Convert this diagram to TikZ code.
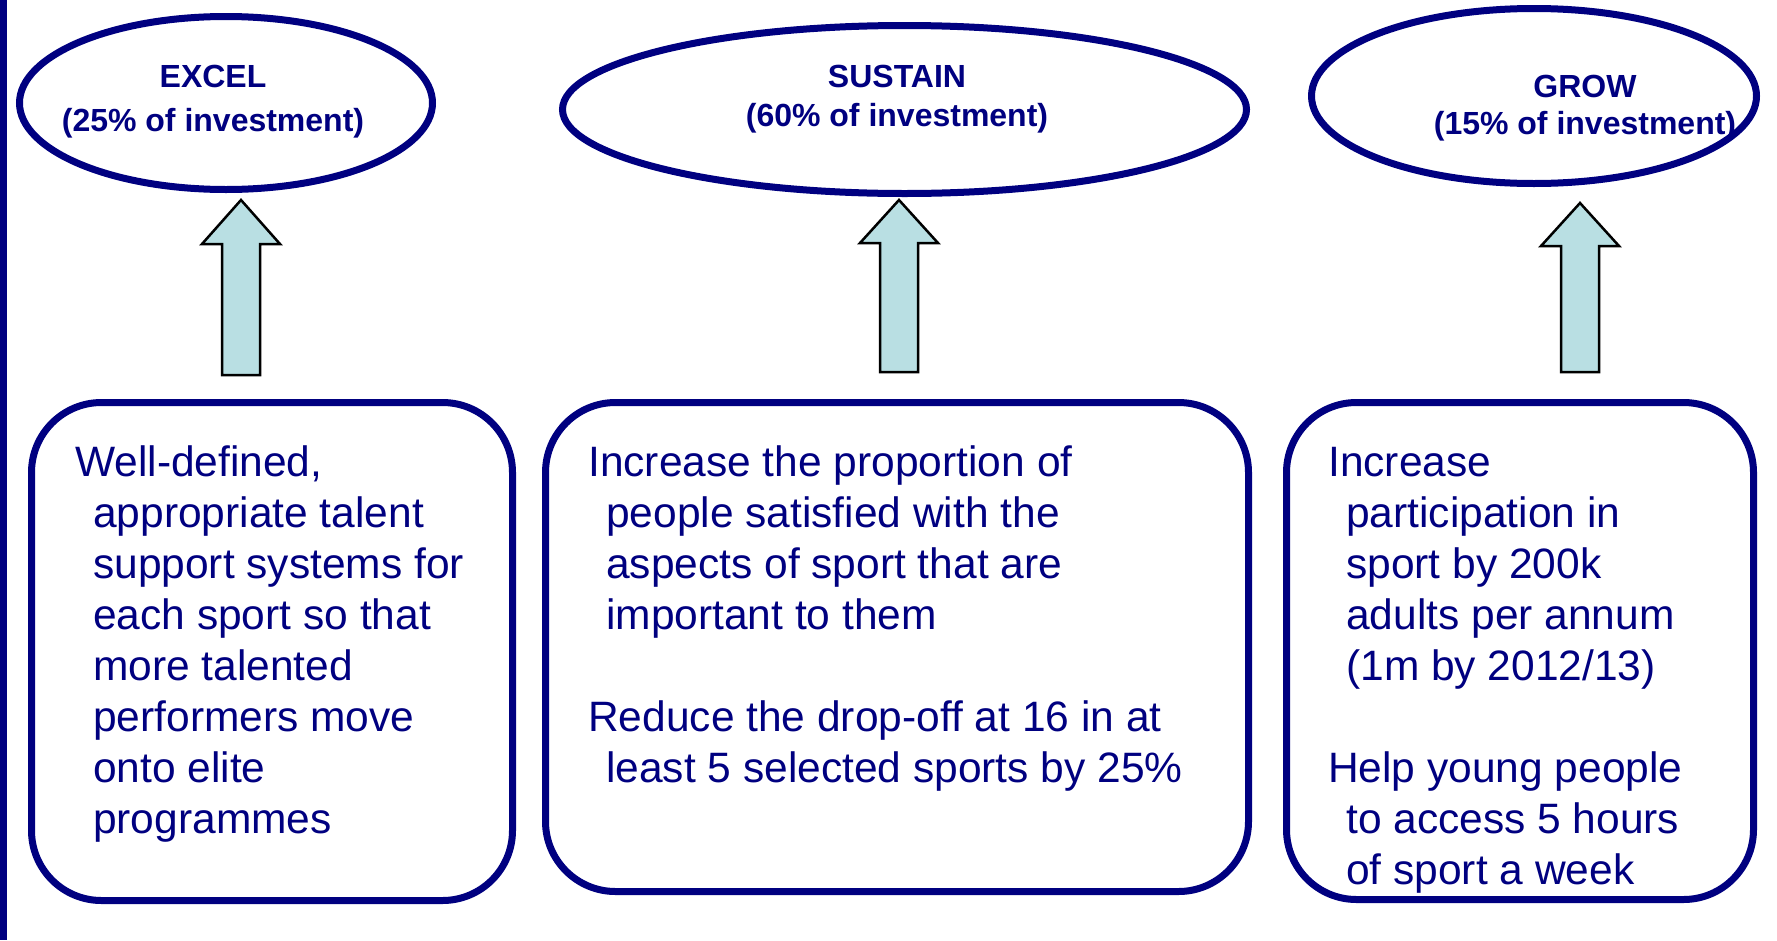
\documentclass[tikz,border=0pt]{standalone}
\usepackage{fontspec}
\setmainfont{Liberation Sans}
\usetikzlibrary{shapes.geometric,calc}
\definecolor{navyline}{RGB}{0,0,128}
\definecolor{arrowfill}{RGB}{185,223,227}

\begin{document}
\begin{tikzpicture}[x=1pt,y=-1pt,
  goal/.style={draw=navyline,line width=7pt,ellipse,inner sep=0pt},
  goaltext/.style={text=navyline,font=\bfseries\fontsize{32}{#1}\selectfont,align=center,anchor=north,inner sep=0pt},
  goaltext/.default=40,
  aimbox/.style={draw=navyline,line width=7pt,rectangle,rounded corners=70pt,inner sep=0pt},
  aimtext/.style={text=navyline,font=\fontsize{42.5}{51}\selectfont,align=left,anchor=north west,inner sep=0pt},
  upblock/.style={draw=black,line width=2.5pt,fill=arrowfill,line join=miter}]
%
\def\ind{\hspace*{18pt}};
\def\hw{39};
\def\sw{19};
%
\useasboundingbox (0,0) rectangle (1777,940);
\fill[navyline] (0,0) rectangle (7,940);
%
\coordinate (E1) at (226,103);
\coordinate (E2) at (904.5,109.5);
\coordinate (E3) at (1534,96);
%
\node[goal,minimum width=413pt,minimum height=173pt] (excel) at (E1) {};
\node[goal,minimum width=684pt,minimum height=168pt] (sustain) at (E2) {};
\node[goal,minimum width=445pt,minimum height=175pt] (grow) at (E3) {};
%
\node[goaltext=44] (excel-label) at (213,65) {EXCEL\\(25\% of investment)};
\node[goaltext=39] (sustain-label) at (897,65) {SUSTAIN\\(60\% of investment)};
\node[goaltext=37] (grow-label) at (1585,75) {GROW\\(15\% of investment)};
%
\coordinate (T1) at (241,200);
\coordinate (T2) at (899,200);
\coordinate (T3) at (1580,203);
%
\draw[upblock] (T1)--++(\hw,44)--++(-\hw+\sw,0)--++(0,131)--++(-2*\sw,0)--++(0,-131)--++(-\hw+\sw,0)--cycle;
\draw[upblock] (T2)--++(\hw,43)--++(-\hw+\sw,0)--++(0,129)--++(-2*\sw,0)--++(0,-129)--++(-\hw+\sw,0)--cycle;
\draw[upblock] (T3)--++(\hw,43)--++(-\hw+\sw,0)--++(0,126)--++(-2*\sw,0)--++(0,-126)--++(-\hw+\sw,0)--cycle;
%
\node[aimbox,minimum width=481pt,minimum height=498pt] (excel-box) at (272,651.5) {};
\node[aimbox,minimum width=703pt,minimum height=489pt] (sustain-box) at (897,647) {};
\node[aimbox,minimum width=467pt,minimum height=497pt] (grow-box) at (1520,651) {};
%
\node[aimtext] (excel-aims) at (75,445.5) {Well-defined,\\
  \ind appropriate talent\\
  \ind support systems for\\
  \ind each sport so that\\
  \ind more talented\\
  \ind performers move\\
  \ind onto elite\\
  \ind programmes};
\node[aimtext] (sustain-aims) at (588,445.5) {Increase the proportion of\\
  \ind people satisfied with the\\
  \ind aspects of sport that are\\
  \ind important to them\\[51pt]
  Reduce the drop-off at 16 in at\\
  \ind least 5 selected sports by 25\%};
\node[aimtext] (grow-aims) at (1328,447) {Increase\\
  \ind participation in\\
  \ind sport by 200k\\
  \ind adults per annum\\
  \ind (1m by 2012/13)\\[51pt]
  Help young people\\
  \ind to access 5 hours\\
  \ind of sport a week};
%
\end{tikzpicture}
\end{document}
